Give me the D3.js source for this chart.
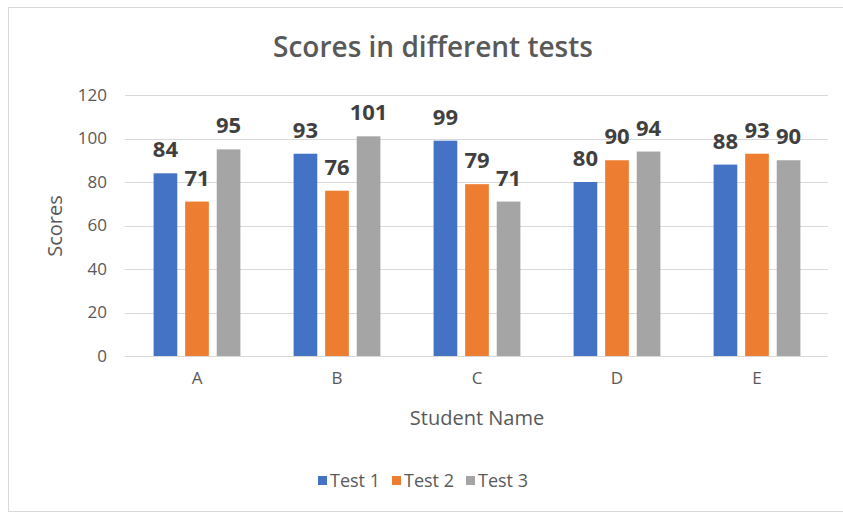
<!DOCTYPE html>
<html>
<head>
<meta charset="utf-8">
<script src="https://cdn.jsdelivr.net/npm/d3@7"></script>
<style>
	body { margin: 0; background: #fff; }
	text { font-family: "Open Sans", "Noto Sans", sans-serif; }
</style>
</head>
<body>
<script>
// Chart data
var students = ["A", "B", "C", "D", "E"];
var tests = ["Test 1", "Test 2", "Test 3"];
var test1 = [84, 93, 99, 80, 88];
var test2 = [71, 76, 79, 90, 93];
var test3 = [95, 101, 71, 94, 90];
var yTicks = [0, 20, 40, 60, 80, 100, 120];
var colors = ["#4472C4", "#ED7D31", "#A5A5A5"];

var series = [test1, test2, test3];

var w = 843;
var h = 513;

var svg = d3.select("body").
append("svg").
attr("width", w).
attr("height", h);

// chart frame
svg.append("rect").
attr("x", 8.5).
attr("y", 7.5).
attr("width", w).
attr("height", 504).
attr("fill", "#fff").
attr("stroke", "#d9d9d9");

// Scales
var x0 = d3.scaleBand().
domain(students).
range([127, 827]).
paddingInner(0.38).
paddingOuter(0.19);

var x1 = d3.scaleBand().
domain(d3.range(tests.length)).
range([0, x0.bandwidth()]).
paddingInner(0.25).
paddingOuter(0);

var yScale = d3.scaleLinear().
domain([0, 120]).
range([356, 95]);

// Gridlines
svg.append("g").
selectAll("line").
data(yTicks).
enter().
append("line").
attr("x1", 125).
attr("x2", 828).
attr("y1", function (d) {return Math.round(yScale(d)) + 0.5;}).
attr("y2", function (d) {return Math.round(yScale(d)) + 0.5;}).
attr("stroke", "#d9d9d9").
attr("stroke-width", 1);

// Y axis labels
var yAxis = d3.axisLeft(yScale).tickValues(yTicks).tickSize(0).tickPadding(0);
var gy = svg.append("g").
attr("transform", "translate(107,0)").
call(yAxis);
gy.select(".domain").remove();
gy.selectAll("text").
attr("fill", "#595959").
style("font-size", "17px");

// X axis labels
var xAxis = d3.axisBottom(x0).tickSize(0).tickPadding(0);
var gx = svg.append("g").
attr("transform", "translate(0,372)").
call(xAxis);
gx.select(".domain").remove();
gx.selectAll("text").
attr("fill", "#595959").
style("font-size", "17px");

// Bars
var groups = svg.selectAll(".group").
data(students).
enter().
append("g").
attr("class", "group").
attr("transform", function (d) {return "translate(" + x0(d) + ",0)";});

groups.selectAll("rect").
data(function (d, i) {return series.map(function (s, k) {return {k: k, v: s[i]};});}).
enter().
append("rect").
attr("x", function (d) {return x1(d.k);}).
attr("y", function (d) {return yScale(d.v);}).
attr("width", x1.bandwidth()).
attr("height", function (d) {return yScale(0) - yScale(d.v);}).
attr("fill", function (d) {return colors[d.k];});

// Data labels
groups.selectAll(".lbl").
data(function (d, i) {return series.map(function (s, k) {return {k: k, v: s[i]};});}).
enter().
append("text").
attr("class", "lbl").
attr("x", function (d) {return x1(d.k) + x1.bandwidth() / 2;}).
attr("y", function (d) {return yScale(d.v) - 16;}).
attr("text-anchor", "middle").
attr("fill", "#404040").
style("font-size", "22px").
style("font-weight", "bold").
text(function (d) {return d.v;});

// Title
svg.append("text").
attr("x", 433).
attr("y", 57).
attr("text-anchor", "middle").
attr("fill", "#595959").
style("font-size", "28px").
style("font-weight", "600").
text("Scores in different tests");

// Axis titles
svg.append("text").
attr("transform", "translate(62,226) rotate(-90)").
attr("text-anchor", "middle").
attr("fill", "#595959").
style("font-size", "20px").
text("Scores");

svg.append("text").
attr("x", 477).
attr("y", 425).
attr("text-anchor", "middle").
attr("fill", "#595959").
style("font-size", "20px").
text("Student Name");

// Legend
var legendX = [318, 392, 466];
var legend = svg.selectAll(".legend").
data(tests).
enter().
append("g").
attr("class", "legend").
attr("transform", function (d, i) {return "translate(" + legendX[i] + ",476)";});

legend.append("rect").
attr("width", 9).
attr("height", 9).
attr("fill", function (d, i) {return colors[i];});

legend.append("text").
attr("x", 12).
attr("y", 11).
attr("fill", "#595959").
style("font-size", "18px").
text(function (d) {return d;});
</script>
</body>
</html>
